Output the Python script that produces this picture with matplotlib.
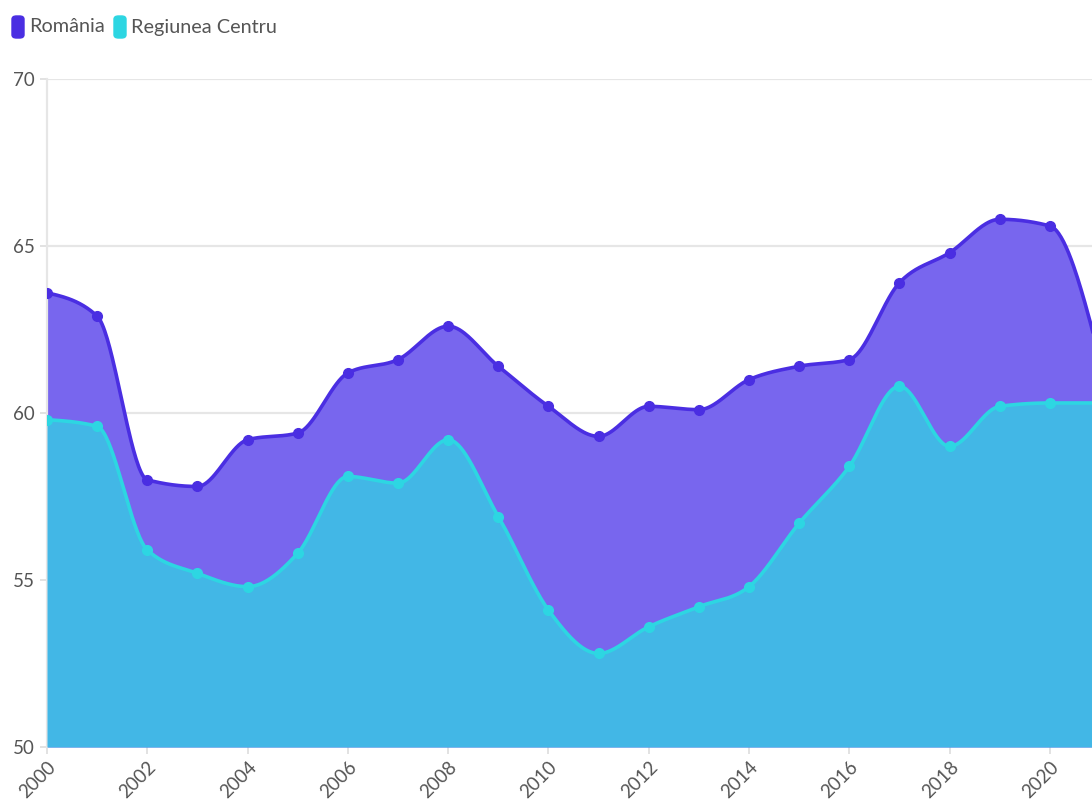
import numpy as np
import matplotlib.pyplot as plt
from matplotlib.patches import FancyBboxPatch

# Employment rate, Romania vs Regiunea Centru
years = list(range(2000, 2022))
romania = [63.6, 62.9, 58.0, 57.8, 59.2, 59.4, 61.2, 61.6, 62.6, 61.4, 60.2,
           59.3, 60.2, 60.1, 61.0, 61.4, 61.6, 63.9, 64.8, 65.8, 65.6, 61.6]
centru = [59.8, 59.6, 55.9, 55.2, 54.8, 55.8, 58.1, 57.9, 59.2, 56.9, 54.1,
          52.8, 53.6, 54.2, 54.8, 56.7, 58.4, 60.8, 59.0, 60.2, 60.3, 60.3]
series_names = ['România', 'Regiunea Centru']

c_ro_line = '#4a2ee2'
c_ro_fill = '#7866ee'
c_ce_line = '#2dd6e2'
c_ce_fill = '#42b7e6'
c_text = '#555555'


def monotone(x, y, n=40):
    # monotone cubic curve (same idea as d3 curveMonotoneX), only for drawing
    x = np.asarray(x, float)
    y = np.asarray(y, float)
    h = np.diff(x)
    s = np.diff(y) / h
    m = np.zeros_like(y)
    for i in range(1, len(y) - 1):
        p = (s[i-1] * h[i] + s[i] * h[i-1]) / (h[i-1] + h[i])
        m[i] = (np.sign(s[i-1]) + np.sign(s[i])) * min(abs(s[i-1]), abs(s[i]), 0.5 * abs(p))
    m[0] = (3 * s[0] - m[1]) / 2
    m[-1] = (3 * s[-1] - m[-2]) / 2
    xs, ys = [], []
    for i in range(len(h)):
        t = np.linspace(0, 1, n, endpoint=False)
        h00 = 2*t**3 - 3*t**2 + 1
        h10 = t**3 - 2*t**2 + t
        h01 = -2*t**3 + 3*t**2
        h11 = t**3 - t**2
        xs.append(x[i] + t * h[i])
        ys.append(h00*y[i] + h10*h[i]*m[i] + h01*y[i+1] + h11*h[i]*m[i+1])
    xs.append([x[-1]])
    ys.append([y[-1]])
    return np.concatenate(xs), np.concatenate(ys)


plt.rcParams['font.family'] = ['Lato', 'DejaVu Sans']

fig = plt.figure(figsize=(10.92, 8.02), dpi=100)
ax = fig.add_axes([47/1092, 55/802, 1 - 47/1092, 668/802])

xr, yr = monotone(years, romania)
xc, yc = monotone(years, centru)

ax.fill_between(xr, yr, 50, color=c_ro_fill, lw=0, zorder=2)
ax.fill_between(xc, yc, 50, color=c_ce_fill, lw=0, zorder=3)
ax.plot(xr, yr, color=c_ro_line, lw=2.6, zorder=4, solid_capstyle='round')
ax.plot(xc, yc, color=c_ce_line, lw=2.6, zorder=5, solid_capstyle='round')
ax.plot(years, romania, 'o', color=c_ro_line, ms=7, zorder=6)
ax.plot(years, centru, 'o', color=c_ce_line, ms=7, zorder=7)

ax.set_xlim(2000, 2020.84)
ax.set_ylim(50, 70)
ax.set_yticks([50, 55, 60, 65, 70])
ax.set_xticks(range(2000, 2021, 2))
ax.grid(axis='y', color='#e6e6e6', lw=1.6, zorder=0)
ax.set_axisbelow(True)
for sp in ['top', 'right', 'bottom']:
    ax.spines[sp].set_visible(False)
ax.spines['left'].set_color('#e6e6e6')
ax.spines['left'].set_linewidth(1.6)
ax.tick_params(axis='y', colors='#dddddd', labelcolor=c_text, labelsize=13.5, length=5, width=1.2, pad=4)
ax.tick_params(axis='x', colors='#dddddd', labelcolor=c_text, labelsize=13.5, length=5, width=1.2, pad=3)
for lab in ax.get_xticklabels():
    lab.set_rotation(45)
    lab.set_ha('right')
    lab.set_va('top')
    lab.set_rotation_mode('anchor')

# legend at top left
leg_x = [12, 114]
leg_cols = [c_ro_line, c_ce_line]
for lx, col, name in zip(leg_x, leg_cols, series_names):
    box = FancyBboxPatch((lx / 1092, 1 - 38/802), 12/1092, 22/802,
                         boxstyle='round,pad=0,rounding_size=0.004',
                         transform=fig.transFigure, color=col)
    fig.patches.append(box)
    fig.text((lx + 17) / 1092, 1 - 27/802, name, fontsize=14.3, color=c_text, va='center', ha='left')

fig.savefig('out.png', dpi=100)
